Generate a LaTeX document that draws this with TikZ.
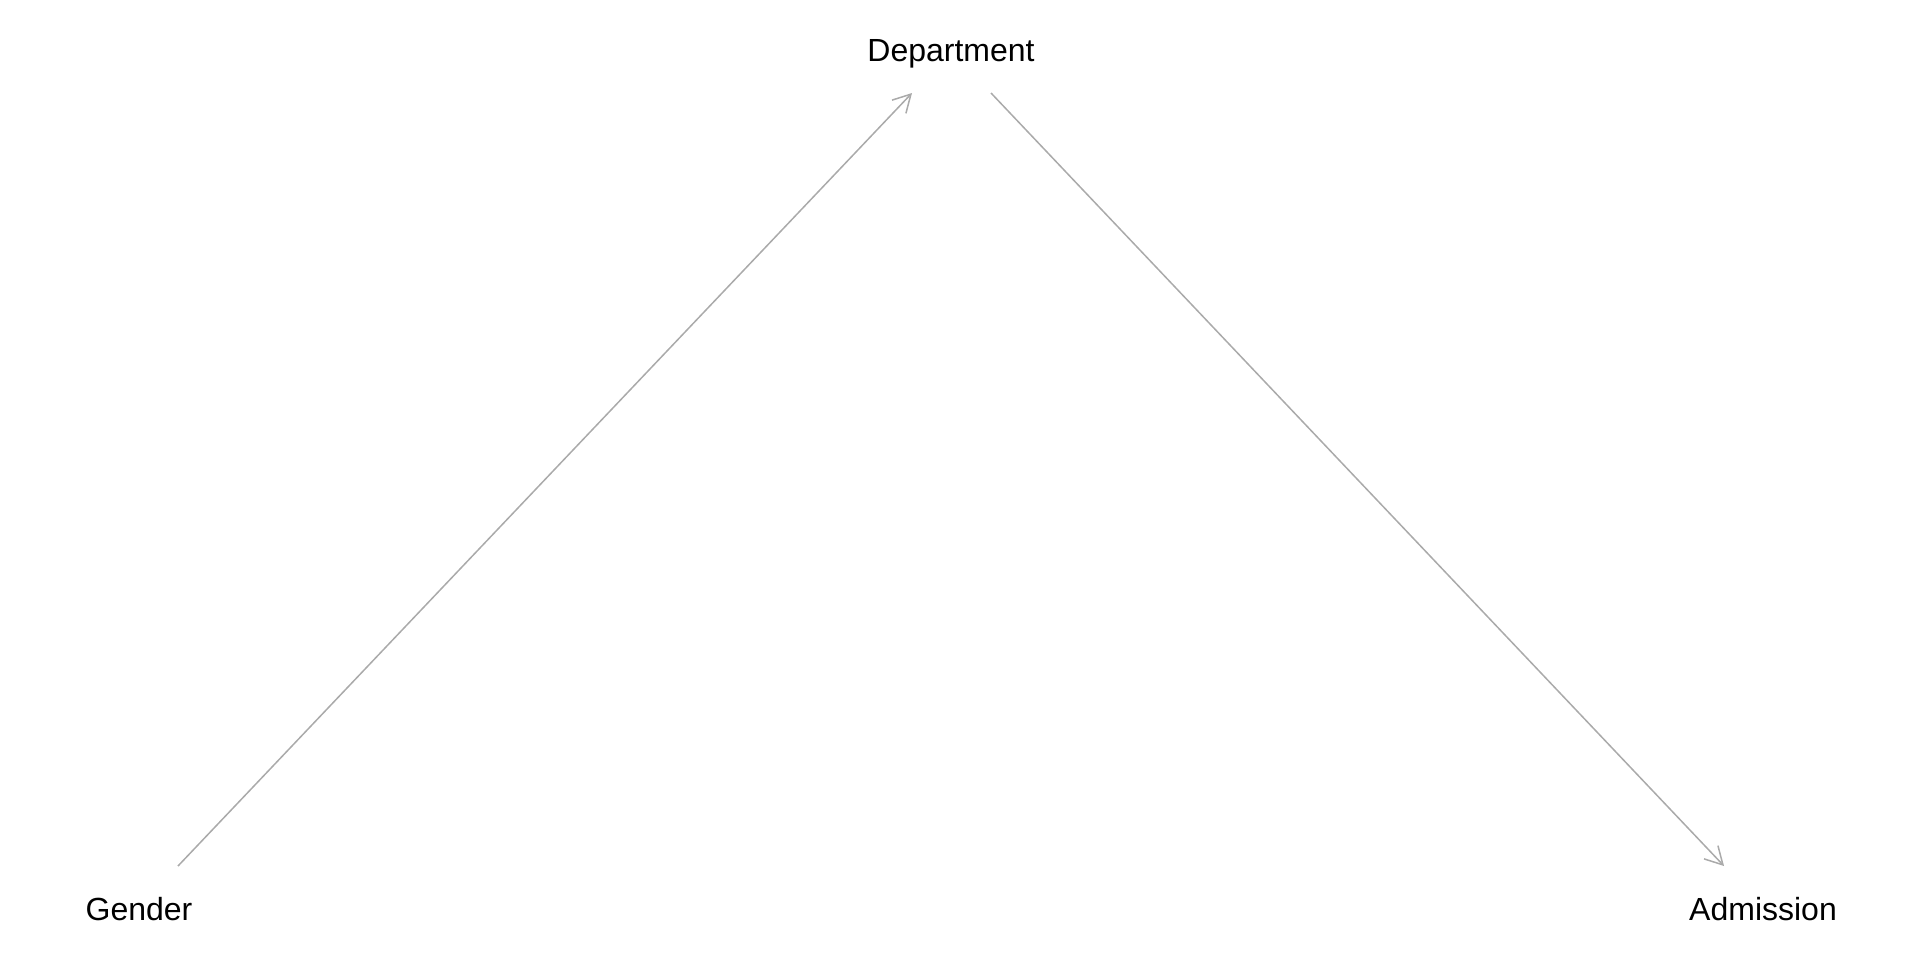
\documentclass[tikz,border=0pt]{standalone}
\usepackage{fontspec}
\setmainfont{Liberation Sans}
\usetikzlibrary{arrows.meta}
\definecolor{edgegray}{HTML}{AAAAAA}
\tikzset{
  varlabel/.style={anchor=base, inner sep=0pt, font=\fontsize{16pt}{19pt}\selectfont, text=black},
  edge/.style={draw=edgegray, line width=0.75pt, -{Straight Barb[length=8.7pt, width=9.6pt, line width=0.75pt]}}
}
\begin{document}
\begin{tikzpicture}[x=0.5pt, y=-0.5pt]
\useasboundingbox (0,0) rectangle (1920,960);
\node[varlabel] (dept) at (951,61) {Department};
\node[varlabel] (gender) at (139,920) {Gender};
\node[varlabel] (adm) at (1763,920) {Admission};
\coordinate (gout) at (178,866);
\coordinate (din) at (912,93);
\coordinate (dout) at (991,93);
\coordinate (ain) at (1724,866);
\draw[edge] (gout) -- (din);
\draw[edge] (dout) -- (ain);
\end{tikzpicture}
\end{document}
